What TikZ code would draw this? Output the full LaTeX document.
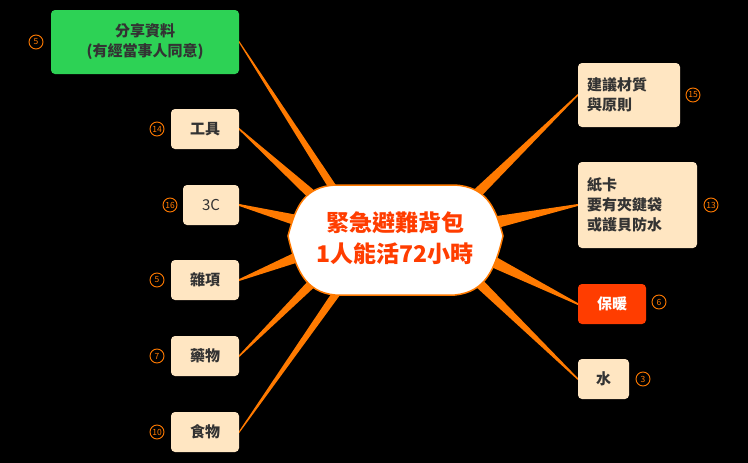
\documentclass[tikz,border=0pt]{standalone}
\usepackage{fontspec}
\usetikzlibrary{calc}
\setmainfont{Noto Sans CJK TC}
\begin{document}
\begin{tikzpicture}[x=1pt,y=-1pt,
  leaf/.style={draw=none,fill=peach,rounded corners=4pt,font=\fontsize{15}{20}\selectfont\bfseries,text=darktext,align=left,inner sep=0pt},
  cnum/.style={circle,draw=orng,line width=0.9pt,text=orng,minimum size=14pt,inner sep=0pt,font=\fontsize{8.5}{9}\selectfont}]
\definecolor{peach}{HTML}{FFE6C2}
\definecolor{orng}{HTML}{FF7A00}
\definecolor{darktext}{HTML}{333333}
\definecolor{redo}{HTML}{FF3D00}
\definecolor{grn}{HTML}{2DD255}
\newcommand{\taper}[2]{\fill[orng] ($(#1)+(0,-1)$) -- ($(#2)+(0,-9)$) -- ($(#2)+(0,9)$) -- ($(#1)+(0,1)$) -- cycle;}
\fill[black] (0,0) rectangle (748,463);
\useasboundingbox (0,0) rectangle (748,463);
\coordinate (c1) at (360,230); \coordinate (c2) at (345,225); \coordinate (c3) at (340,232);
\coordinate (c4) at (340,240); \coordinate (c5) at (350,245); \coordinate (c6) at (370,245);
\coordinate (d1) at (440,230); \coordinate (d2) at (450,232); \coordinate (d3) at (450,240); \coordinate (d4) at (440,245);
\node[leaf,fill=grn,minimum width=188pt,minimum height=64pt,align=center] (g) at (145,42) {分享資料\\(有經當事人同意)};
\node[leaf,minimum width=68pt,minimum height=40pt,align=center] (t) at (205,129) {工具};
\node[leaf,minimum width=56pt,minimum height=40pt,align=center,font=\fontsize{15}{18}\selectfont] (p) at (211,205) {3C};
\node[leaf,minimum width=68pt,minimum height=40pt,align=center] (z) at (205,280) {雜項};
\node[leaf,minimum width=68pt,minimum height=40pt,align=center] (y) at (205,356) {藥物};
\node[leaf,minimum width=68pt,minimum height=40pt,align=center] (f) at (205,432) {食物};
\node[leaf,minimum width=102pt,minimum height=64pt,text width=84pt] (j) at (629,95) {建議材質\\與原則};
\node[leaf,minimum width=119pt,minimum height=86pt,text width=101pt] (k) at (637.5,205) {紙卡\\要有夾鍵袋\\或護貝防水};
\node[leaf,fill=redo,text=white,minimum width=68pt,minimum height=40pt,align=center] (w) at (612,304) {保暖};
\node[leaf,minimum width=51pt,minimum height=40pt,align=center] (s) at (603.5,379) {水};
\taper{g.east}{c1}
\taper{t.east}{c2}
\taper{p.east}{c3}
\taper{z.east}{c4}
\taper{y.east}{c5}
\taper{f.east}{c6}
\taper{j.west}{d1}
\taper{k.west}{d2}
\taper{w.west}{d3}
\taper{s.west}{d4}
\draw[orng,fill=white,line width=1.5pt] (288,236) .. controls (296,205) and (305,187) .. (335,185)
  -- (455,185) .. controls (485,187) and (495,205) .. (503,236)
  .. controls (495,270) and (485,292) .. (455,295)
  -- (335,295) .. controls (305,292) and (296,270) .. cycle;
\node[text=redo,font=\fontsize{23}{31}\selectfont\bfseries,align=center] (m) at (395,238) {緊急避難背包\\1人能活72小時};
\node[cnum] (n1) at (36,42) {5};
\node[cnum] (n2) at (157,129) {14};
\node[cnum] (n3) at (170,205) {16};
\node[cnum] (n4) at (157,280) {5};
\node[cnum] (n5) at (157,356) {7};
\node[cnum] (n6) at (157,432) {10};
\node[cnum] (n7) at (693,95) {15};
\node[cnum] (n8) at (711,205) {13};
\node[cnum] (n9) at (659,302) {6};
\node[cnum] (n10) at (643,379) {3};
\end{tikzpicture}
\end{document}
